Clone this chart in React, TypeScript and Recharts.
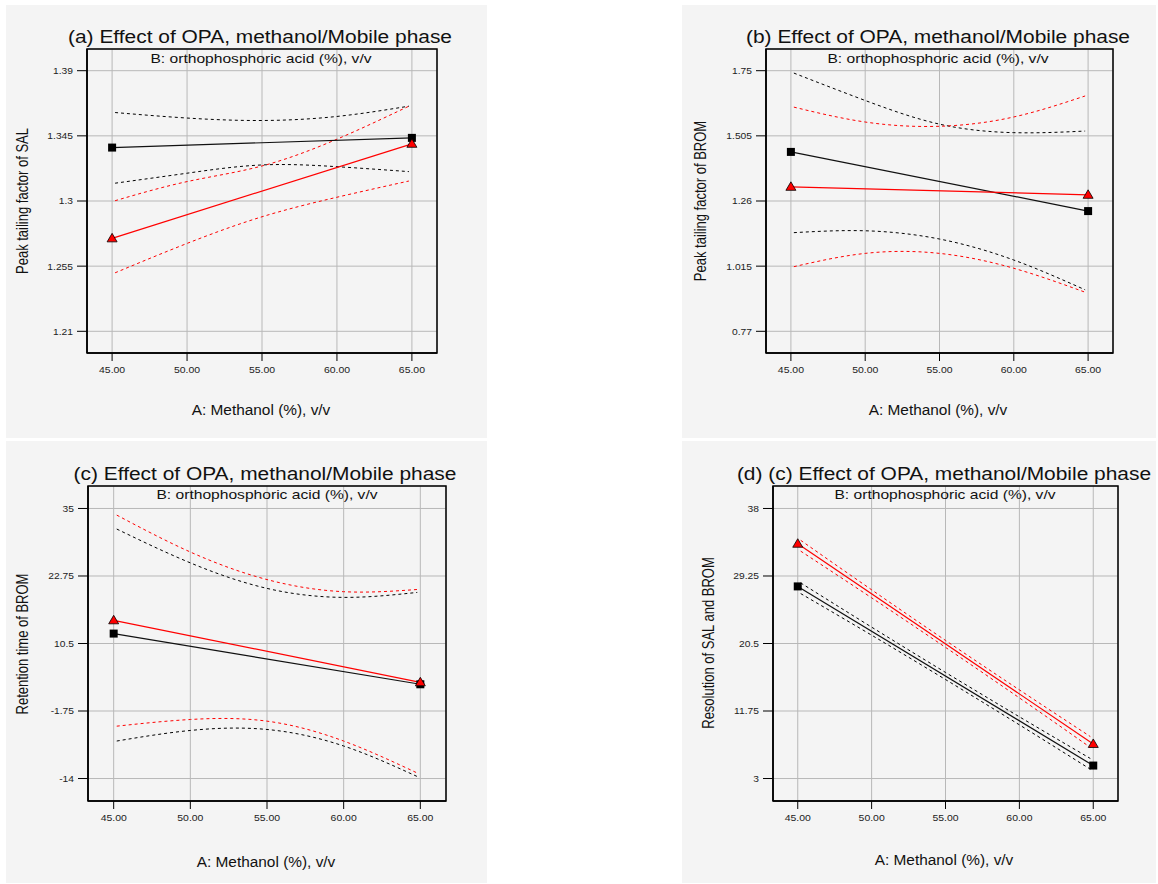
import React from "react";
import { CartesianGrid, Line, LineChart, ReferenceArea, XAxis, YAxis } from "recharts";

const FONT = "'Liberation Sans', Arial, sans-serif";

// x values shared by all four panels
const solidX = [45, 65];
const bandX = [45.2, 50, 55, 60, 64.8];
const xTicks = [45, 50, 55, 60, 65];

// (a) Peak tailing factor of SAL
const yTicksA = [1.21, 1.255, 1.3, 1.345, 1.39];
const salLow = [1.3369, 1.3436];
const salHigh = [1.2742, 1.3395];
const salLowUpper = [1.3611, 1.3573, 1.3556, 1.3584, 1.3655];
const salLowLower = [1.3123, 1.3192, 1.3249, 1.3237, 1.3203];
const salHighUpper = [1.3002, 1.3134, 1.3242, 1.3427, 1.3655];
const salHighLower = [1.2504, 1.2707, 1.2891, 1.3026, 1.3138];

// (b) Peak tailing factor of BROM
const yTicksB = [0.77, 1.015, 1.26, 1.505, 1.75];
const bromLow = [1.4446, 1.2221];
const bromHigh = [1.3133, 1.2833];
const bromLowUpper = [1.741, 1.638, 1.549, 1.517, 1.523];
const bromLowLower = [1.141, 1.148, 1.117, 1.038, 0.926];
const bromHighUpper = [1.613, 1.557, 1.541, 1.576, 1.655];
const bromHighLower = [1.013, 1.063, 1.063, 1.007, 0.917];

// (c) Retention time of BROM
const yTicksC = [-14, -1.75, 10.5, 22.75, 35];
const rtLow = [12.3, 3.1];
const rtHigh = [14.71, 3.46];
const rtLowUpper = [31.27, 25.13, 20.5, 18.87, 19.77];
const rtLowLower = [-7.2, -5.28, -5.1, -8.1, -13.64];
const rtHighUpper = [33.8, 27.1, 22.1, 19.9, 20.3];
const rtHighLower = [-4.5, -3.29, -3.59, -7.2, -13.0];

// (d) Resolution of SAL and BROM
const yTicksD = [3, 11.75, 20.5, 29.25, 38];
const resLow = [27.9, 4.68];
const resHigh = [33.43, 7.48];
const resLowUpper = [28.35, 22.62, 16.75, 11.0, 5.6];
const resLowLower = [26.97, 21.58, 15.83, 9.96, 4.21];
const resHighUpper = [33.87, 27.46, 20.9, 14.49, 8.44];
const resHighLower = [32.47, 26.42, 20.0, 13.45, 7.04];

const toRows = (xs: number[], ys: number[]) => xs.map((x, i) => ({ x, y: ys[i] }));

const Square = (p: any) => {
  if (p.cx == null) return null;
  return <rect key={`s-${p.cx}-${p.cy}`} x={p.cx - 4} y={p.cy - 4} width={8} height={8} fill="#000" />;
};

const Triangle = (p: any) => {
  if (p.cx == null) return null;
  const { cx, cy } = p;
  return (
    <path
      key={`t-${cx}-${cy}`}
      d={`M${cx},${cy - 5} L${cx + 5},${cy + 3.5} L${cx - 5},${cy + 3.5} Z`}
      fill="#ff0000"
      stroke="#000"
      strokeWidth={0.8}
    />
  );
};

const XTick = ({ x, y, payload }: any) => (
  <g transform={`translate(${x},${y})`}>
    <text textAnchor="middle" dy="0.71em" fontSize={9.5} fill="#222" fontFamily={FONT} transform="scale(1.1,1)">
      {Number(payload.value).toFixed(2)}
    </text>
  </g>
);

const YTick = ({ x, y, payload }: any) => (
  <g transform={`translate(${x},${y})`}>
    <text textAnchor="end" dy="0.355em" fontSize={9.5} fill="#222" fontFamily={FONT} transform="scale(1.08,1)">
      {String(payload.value)}
    </text>
  </g>
);

interface PanelProps {
  title: string;
  yLabel: string;
  yTicks: number[];
  low: number[];
  high: number[];
  lowUpper: number[];
  lowLower: number[];
  highUpper: number[];
  highLower: number[];
  box: { left: number; top: number; width: number; height: number };
  plot: { left: number; right: number; top: number; bottom: number };
  titlePos: [number, number];
  subPos: [number, number];
  xLabelPos: [number, number];
  yLabelPos: [number, number];
}

const centered = (pos: [number, number], extra: string): React.CSSProperties => ({
  position: "absolute",
  left: pos[0],
  top: pos[1],
  transform: `translate(-50%, -50%) ${extra}`,
  whiteSpace: "nowrap",
  lineHeight: 1,
  color: "#111",
});

function Panel(props: PanelProps) {
  const { box, plot, yTicks } = props;
  const yStep = yTicks[1] - yTicks[0];
  const yDomain: [number, number] = [yTicks[0] - 0.333 * yStep, yTicks[yTicks.length - 1] + 0.333 * yStep];
  const xDomain: [number, number] = [45 - 0.335 * 5, 65 + 0.335 * 5];
  const yAxisWidth = 60;
  const xAxisHeight = 40;

  const dashed = (rows: { x: number; y: number }[], color: string, key: string) => (
    <Line
      key={key}
      data={rows}
      dataKey="y"
      type="natural"
      stroke={color}
      strokeWidth={1}
      strokeDasharray="3 3"
      dot={false}
      activeDot={false}
      isAnimationActive={false}
    />
  );

  return (
    <div style={{ position: "absolute", left: box.left, top: box.top, width: box.width, height: box.height, background: "#f4f4f4" }}>
      <LineChart
        width={box.width}
        height={box.height}
        margin={{
          top: plot.top,
          right: plot.right,
          left: plot.left - yAxisWidth,
          bottom: plot.bottom - xAxisHeight,
        }}
      >
        <CartesianGrid stroke="#b8b8b8" strokeWidth={1} />
        <XAxis
          dataKey="x"
          type="number"
          domain={xDomain}
          ticks={xTicks}
          allowDataOverflow
          height={xAxisHeight}
          tickSize={8}
          tickMargin={5}
          tickLine={{ stroke: "#000" }}
          axisLine={{ stroke: "#000", strokeWidth: 1.5 }}
          tick={<XTick />}
        />
        <YAxis
          type="number"
          domain={yDomain}
          ticks={yTicks}
          allowDataOverflow
          width={yAxisWidth}
          tickSize={10}
          tickMargin={4}
          tickLine={{ stroke: "#000" }}
          axisLine={{ stroke: "#000", strokeWidth: 1.5 }}
          tick={<YTick />}
        />
        <ReferenceArea
          x1={xDomain[0]}
          x2={xDomain[1]}
          y1={yDomain[0]}
          y2={yDomain[1]}
          fill="none"
          stroke="#000"
          strokeWidth={1.5}
        />
        {dashed(toRows(bandX, props.lowUpper), "#000", "lu")}
        {dashed(toRows(bandX, props.lowLower), "#000", "ll")}
        {dashed(toRows(bandX, props.highUpper), "#ff0000", "hu")}
        {dashed(toRows(bandX, props.highLower), "#ff0000", "hl")}
        <Line
          data={toRows(solidX, props.low)}
          dataKey="y"
          type="linear"
          stroke="#111"
          strokeWidth={1.2}
          dot={(p: any) => <Square {...p} key={`sq-${p.index}`} />}
          activeDot={false}
          isAnimationActive={false}
        />
        <Line
          data={toRows(solidX, props.high)}
          dataKey="y"
          type="linear"
          stroke="#ff0000"
          strokeWidth={1.2}
          dot={(p: any) => <Triangle {...p} key={`tr-${p.index}`} />}
          activeDot={false}
          isAnimationActive={false}
        />
      </LineChart>
      <div style={{ ...centered(props.titlePos, "scaleX(1.195)"), fontSize: 17.5 }}>{props.title}</div>
      <div style={{ ...centered(props.subPos, "scaleX(1.2)"), fontSize: 13 }}>B: orthophosphoric acid (%), v/v</div>
      <div style={{ ...centered(props.xLabelPos, "scaleX(1.1)"), fontSize: 14 }}>A: Methanol (%), v/v</div>
      <div style={{ ...centered(props.yLabelPos, "rotate(-90deg) scaleY(1.3)"), fontSize: 13 }}>{props.yLabel}</div>
    </div>
  );
}

export default function App() {
  return (
    <div style={{ position: "absolute", left: 0, top: 0, width: 1158, height: 884, background: "#fff", fontFamily: FONT }}>
      <Panel
        title="(a) Effect of OPA, methanol/Mobile phase"
        yLabel="Peak tailing factor of SAL"
        yTicks={yTicksA}
        low={salLow}
        high={salHigh}
        lowUpper={salLowUpper}
        lowLower={salLowLower}
        highUpper={salHighUpper}
        highLower={salHighLower}
        box={{ left: 6, top: 5, width: 481, height: 433 }}
        plot={{ left: 81, right: 50, top: 44, bottom: 85 }}
        titlePos={[254, 32.5]}
        subPos={[255, 52.5]}
        xLabelPos={[254.5, 405]}
        yLabelPos={[16, 196]}
      />
      <Panel
        title="(b) Effect of OPA, methanol/Mobile phase"
        yLabel="Peak tailing factor of BROM"
        yTicks={yTicksB}
        low={bromLow}
        high={bromHigh}
        lowUpper={bromLowUpper}
        lowLower={bromLowLower}
        highUpper={bromHighUpper}
        highLower={bromHighLower}
        box={{ left: 682, top: 5, width: 474, height: 433 }}
        plot={{ left: 84, right: 43, top: 44, bottom: 85 }}
        titlePos={[256, 32.5]}
        subPos={[256, 52.5]}
        xLabelPos={[256, 405]}
        yLabelPos={[18, 196]}
      />
      <Panel
        title="(c) Effect of OPA, methanol/Mobile phase"
        yLabel="Retention time of BROM"
        yTicks={yTicksC}
        low={rtLow}
        high={rtHigh}
        lowUpper={rtLowUpper}
        lowLower={rtLowLower}
        highUpper={rtHighUpper}
        highLower={rtHighLower}
        box={{ left: 6, top: 441, width: 481, height: 442 }}
        plot={{ left: 82, right: 41, top: 45, bottom: 82 }}
        titlePos={[259, 34]}
        subPos={[260.5, 53]}
        xLabelPos={[259.5, 420.5]}
        yLabelPos={[16, 202.5]}
      />
      <Panel
        title="(d) (c) Effect of OPA, methanol/Mobile phase"
        yLabel="Resolution of SAL and BROM"
        yTicks={yTicksD}
        low={resLow}
        high={resHigh}
        lowUpper={resLowUpper}
        lowLower={resLowLower}
        highUpper={resHighUpper}
        highLower={resHighLower}
        box={{ left: 682, top: 441, width: 474, height: 442 }}
        plot={{ left: 91, right: 38, top: 45, bottom: 82 }}
        titlePos={[261.5, 34]}
        subPos={[263, 53]}
        xLabelPos={[261.5, 419]}
        yLabelPos={[26, 202]}
      />
    </div>
  );
}
